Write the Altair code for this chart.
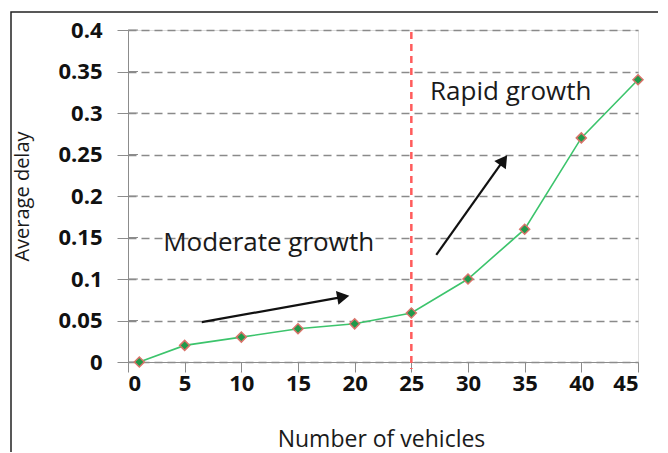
import math
import altair as alt
import pandas as pd

# data
vehicles = [1, 5, 10, 15, 20, 25, 30, 35, 40, 45]
delay = [0.0, 0.02, 0.03, 0.04, 0.046, 0.059, 0.10, 0.16, 0.27, 0.34]
x_ticks = [0, 5, 10, 15, 20, 25, 30, 35, 40, 45]
y_ticks = [0, 0.05, 0.1, 0.15, 0.2, 0.25, 0.3, 0.35, 0.4]
divider_x = [25]
note_text = ["Moderate growth", "Rapid growth"]
note_x = [3.1, 26.65]
note_y = [0.143, 0.325]
arrow_x0 = [6.5, 27.2]
arrow_y0 = [0.048, 0.129]
arrow_x1 = [19.6, 33.5]
arrow_y1 = [0.080, 0.250]

W, H = 510, 332
XMAX, YMAX = 45, 0.4
px_x = W / XMAX
px_y = H / YMAX

FONT = "Open Sans"

df = pd.DataFrame({"x": vehicles, "y": delay})

xs = alt.Scale(domain=[0, XMAX], nice=False, zero=False)
ys = alt.Scale(domain=[0, YMAX], nice=False)

base = alt.Chart(df)

line = base.mark_line(color="#3cc46c", strokeWidth=1.6).encode(
    x=alt.X("x:Q", scale=xs,
            axis=alt.Axis(values=x_ticks, title="Number of vehicles", grid=False,
                          domainColor="#8c8c8c", tickColor="#8c8c8c", tickSize=10,
                          labelFont=FONT, labelFontSize=22, labelFontWeight="bold",
                          labelColor="#111111", labelPadding=1,
                          titleFont=FONT, titleFontSize=23, titleFontWeight="normal",
                          titleColor="#1a1a1a", titleX=253, titleY=84,
                          titleBaseline="alphabetic")),
    y=alt.Y("y:Q", scale=ys,
            axis=alt.Axis(values=y_ticks, title="Average delay", grid=True, format="~g",
                          gridDash=[8, 5], gridColor="#8a8a8a", gridWidth=1.3,
                          domainColor="#8c8c8c", tickColor="#8c8c8c", tickSize=11,
                          labelFont=FONT, labelFontSize=22, labelFontWeight="bold",
                          labelColor="#111111", labelPadding=15,
                          titleFont=FONT, titleFontSize=20, titleFontWeight="normal",
                          titleColor="#1a1a1a", titleX=-106, titleY=166,
                          titleAlign="center", titleBaseline="middle")),
)

# inner halves of the crossing y-axis ticks
inner_ticks = alt.Chart(pd.DataFrame({"y": y_ticks})).mark_rule(
    color="#8c8c8c", strokeWidth=1).encode(
    y=alt.Y("y:Q", scale=ys), x=alt.value(0), x2=alt.value(10))

pts = base.mark_point(shape="diamond", filled=True, size=100, color="#1f9a4a",
                      stroke="#d9736a", strokeWidth=1.5, opacity=1).encode(
    x=alt.X("x:Q", scale=xs), y=alt.Y("y:Q", scale=ys))

vline = alt.Chart(pd.DataFrame({"x": divider_x})).mark_rule(
    color="#ff5c5c", strokeWidth=2.5, strokeDash=[7, 5]).encode(
    x=alt.X("x:Q", scale=xs), y=alt.value(2), y2=alt.value(H + 7))

notes = alt.Chart(pd.DataFrame({"t": note_text, "x": note_x, "y": note_y})).mark_text(
    align="left", baseline="middle", font=FONT, fontSize=26, color="#1a1a1a").encode(
    x=alt.X("x:Q", scale=xs), y=alt.Y("y:Q", scale=ys), text="t:N")

# arrows
angles, hx, hy = [], [], []
for x0, y0, x1, y1 in zip(arrow_x0, arrow_y0, arrow_x1, arrow_y1):
    dx = (x1 - x0) * px_x
    dy = (y1 - y0) * px_y
    L = math.hypot(dx, dy)
    angles.append(math.degrees(math.atan2(dx, dy)))
    hx.append(x1 - 7 * dx / L / px_x)
    hy.append(y1 - 7 * dy / L / px_y)

adf = pd.DataFrame({"x0": arrow_x0, "y0": arrow_y0, "x1": arrow_x1, "y1": arrow_y1,
                    "hx": hx, "hy": hy, "ang": angles})
shafts = alt.Chart(adf).mark_rule(color="#111111", strokeWidth=2.2).encode(
    x=alt.X("x0:Q", scale=xs), y=alt.Y("y0:Q", scale=ys),
    x2="hx:Q", y2="hy:Q")
heads = alt.Chart(adf).mark_point(shape="triangle-up", filled=True, size=200,
                                  color="#111111", opacity=1).encode(
    x=alt.X("hx:Q", scale=xs), y=alt.Y("hy:Q", scale=ys),
    angle=alt.Angle("ang:Q", scale=None))

frame = alt.Chart(pd.DataFrame({"a": [0]})).mark_rect(
    fill=None, stroke="#222222", strokeWidth=1.5).encode(
    x=alt.value(-117), x2=alt.value(537), y=alt.value(-18), y2=alt.value(440))

chart = alt.layer(frame, vline, inner_ticks, line, pts, shafts, heads, notes).properties(
    width=W, height=H,
    padding={"left": 120, "top": 22, "right": 20, "bottom": 90},
    autosize=alt.AutoSizeParams(type="none"),
).configure_view(stroke=None).configure(background="white")

chart.save("out.html", embed_options={"renderer": "svg", "actions": False})
